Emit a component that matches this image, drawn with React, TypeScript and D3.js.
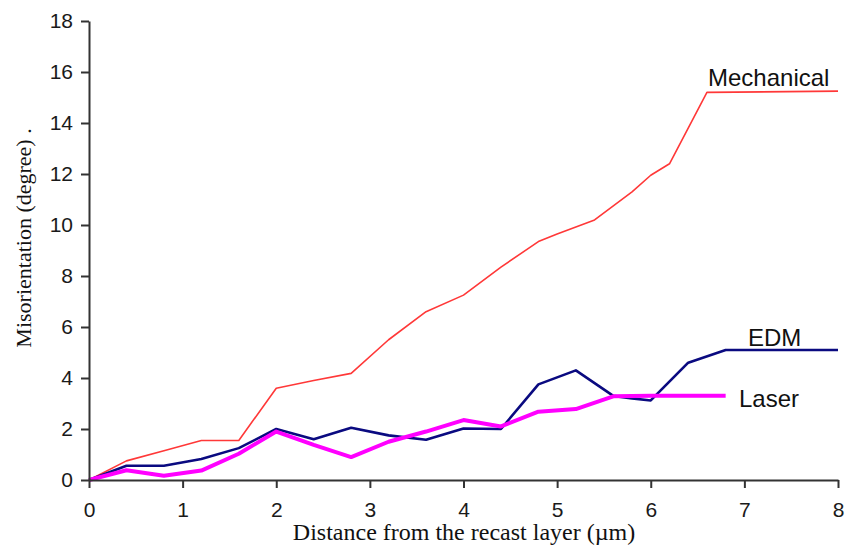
import React, { useRef, useEffect } from 'react'
import * as d3 from 'd3'

// values
const mechX = [0, 0.4, 0.8, 1.2, 1.6, 2.0, 2.4, 2.8, 3.2, 3.6, 4.0, 4.4, 4.8, 5.0, 5.4, 5.8, 6.0, 6.2, 6.6, 8]
const mechY = [0, 0.75, 1.15, 1.55, 1.55, 3.6, 3.9, 4.18, 5.5, 6.6, 7.25, 8.35, 9.35, 9.65, 10.2, 11.3, 11.95, 12.4, 15.2, 15.25]

const edmX = [0, 0.4, 0.8, 1.2, 1.6, 2.0, 2.4, 2.8, 3.2, 3.6, 4.0, 4.4, 4.8, 5.2, 5.6, 5.8, 6.0, 6.4, 6.8, 8]
const edmY = [0, 0.56, 0.56, 0.82, 1.25, 2.0, 1.6, 2.05, 1.75, 1.58, 2.02, 2.0, 3.75, 4.3, 3.3, 3.2, 3.12, 4.6, 5.1, 5.1]

const laserX = [0, 0.4, 0.8, 1.2, 1.6, 2.0, 2.4, 2.8, 3.2, 3.6, 4.0, 4.4, 4.8, 5.2, 5.6, 6.0, 6.4, 6.8]
const laserY = [0, 0.38, 0.17, 0.37, 1.03, 1.9, 1.38, 0.9, 1.5, 1.9, 2.35, 2.1, 2.68, 2.78, 3.28, 3.3, 3.3, 3.3]

const xTicks = [0, 1, 2, 3, 4, 5, 6, 7, 8]
const yTicks = [0, 2, 4, 6, 8, 10, 12, 14, 16, 18]

export default function App() {
  const ref = useRef<SVGSVGElement>(null)

  useEffect(() => {
    const svg = d3.select(ref.current)
    svg.selectAll('*').remove()

    const x = d3.scaleLinear().domain([0, 8]).range([89, 838])
    const y = d3.scaleLinear().domain([0, 18]).range([480, 21])

    const series = [
      { name: 'Mechanical', xs: mechX, ys: mechY, color: '#ff3838', width: 1.6 },
      { name: 'EDM', xs: edmX, ys: edmY, color: '#0a0a80', width: 2.6 },
      { name: 'Laser', xs: laserX, ys: laserY, color: '#ff00ff', width: 4 },
    ]

    const line = d3.line<[number, number]>().x(d => x(d[0])).y(d => y(d[1]))

    series.forEach(s => {
      const pts = s.xs.map((v, i) => [v, s.ys[i]] as [number, number])
      svg.append('path')
        .attr('d', line(pts))
        .attr('fill', 'none')
        .attr('stroke', s.color)
        .attr('stroke-width', s.width)
        .attr('stroke-linejoin', 'round')
    })

    const yAxis = svg.append('g')
      .attr('transform', 'translate(89,0)')
      .call(d3.axisLeft(y).tickValues(yTicks).tickSize(8).tickPadding(8).tickSizeOuter(0))
    const xAxis = svg.append('g')
      .attr('transform', 'translate(0,480)')
      .call(d3.axisBottom(x).tickValues(xTicks).tickSize(8).tickPadding(14).tickSizeOuter(0))

    ;[xAxis, yAxis].forEach(a => {
      a.selectAll('path').attr('stroke', '#333').attr('stroke-width', 2)
      a.selectAll('line').attr('stroke', '#333').attr('stroke-width', 2)
      a.selectAll('text')
        .attr('fill', '#1a1a1a')
        .style('font-family', '"Liberation Sans", Arial, sans-serif')
        .style('font-size', '21px')
    })

    // series labels
    const labels = [
      { text: 'Mechanical', lx: 708, ly: 86 },
      { text: 'EDM', lx: 748, ly: 346 },
      { text: 'Laser', lx: 739, ly: 407 },
    ]
    svg.selectAll('text.lbl').data(labels).join('text')
      .attr('class', 'lbl')
      .attr('x', d => d.lx)
      .attr('y', d => d.ly)
      .text(d => d.text)
      .style('font-family', '"Liberation Sans", Arial, sans-serif')
      .style('font-size', '24px')
      .attr('fill', '#111')

    svg.append('text')
      .attr('transform', 'translate(31,238) rotate(-90)')
      .attr('text-anchor', 'middle')
      .style('font-family', '"Liberation Serif", "Times New Roman", serif')
      .style('font-size', '22px')
      .attr('fill', '#111')
      .text('Misorientation (degree) .')

    svg.append('text')
      .attr('x', 464)
      .attr('y', 540)
      .attr('text-anchor', 'middle')
      .style('font-family', '"Liberation Serif", "Times New Roman", serif')
      .style('font-size', '24px')
      .attr('fill', '#111')
      .text('Distance from the recast layer (\u00b5m)')
  })

  return (
    <svg ref={ref} width={859} height={545} style={{ position: 'absolute', left: 0, top: 0, background: '#fff' }} />
  )
}
